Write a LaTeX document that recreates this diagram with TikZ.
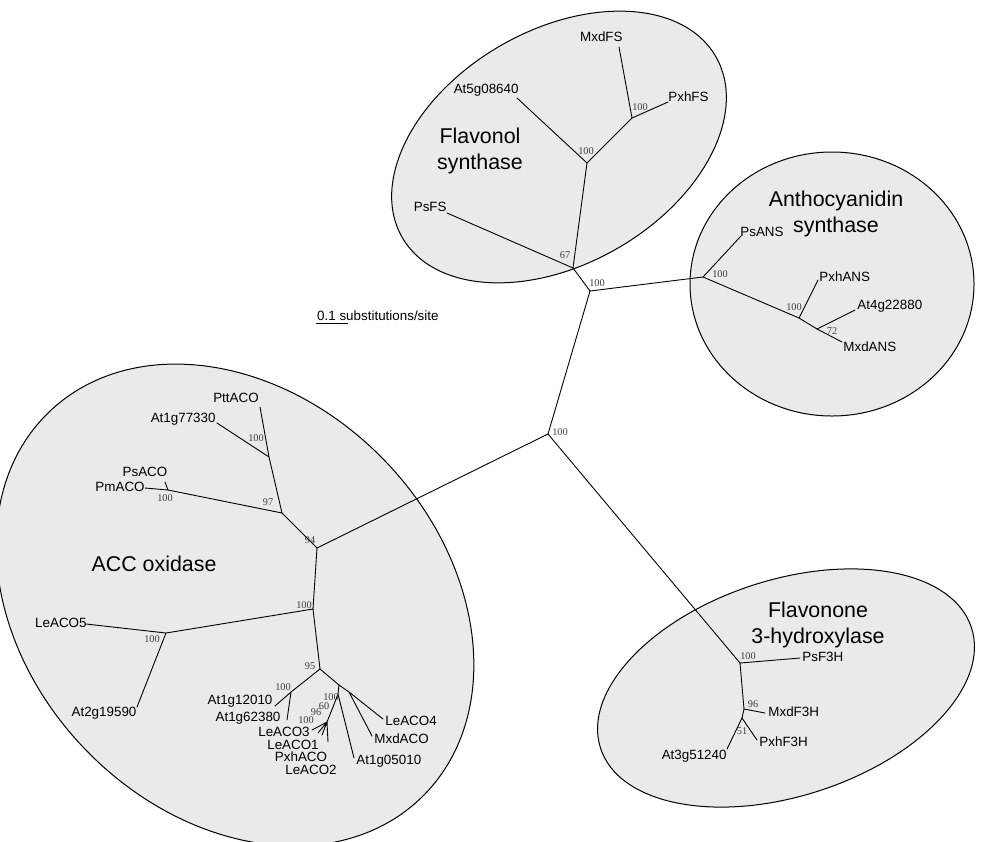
\documentclass[tikz,border=0pt]{standalone}
\usepackage{fontspec}
\setmainfont{Liberation Sans}
\newfontfamily\bootfont{Liberation Serif}
\usetikzlibrary{positioning}
\definecolor{cladefill}{RGB}{233,234,234}
\definecolor{boottext}{RGB}{60,60,60}

\begin{document}
\begin{tikzpicture}[x=1pt,y=-1pt,
  clade/.style={draw=black, line width=1pt, fill=cladefill},
  branch/.style={line width=0.9pt, line cap=round},
  taxon/.style={font=\fontsize{13.4}{15}\selectfont, inner sep=0.2pt},
  boot/.style={font=\bootfont\fontsize{10.3}{11}\selectfont, inner sep=0pt, text=boottext},
  group/.style={font=\fontsize{21.4}{25.5}\selectfont, align=center}]

\useasboundingbox (0,0) rectangle (981,841);
\clip (0,0) rectangle (981,841);

% clade ellipses
\draw[clade, rotate around={30:(559,147)}] (559,147) ellipse [x radius=181, y radius=117];
\draw[clade] (832,284) ellipse [x radius=142, y radius=132];
\draw[clade, rotate around={18:(786,688)}] (786,688) ellipse [x radius=195, y radius=108];
\draw[clade, rotate around={-46:(235,605)}] (235,605) ellipse [x radius=268, y radius=208];

% inner nodes
\coordinate (root) at (548,434);
\coordinate (top) at (590,291);
\coordinate (fs67) at (573,268);
\coordinate (fs100) at (587,163);
\coordinate (fs100b) at (632,118);
\coordinate (ans100) at (703,277);
\coordinate (ans100b) at (799,318);
\coordinate (ans72) at (817,329);
\coordinate (f3h100) at (740,663);
\coordinate (f3h96) at (744,709);
\coordinate (f3h51) at (742,718);
\coordinate (aco94) at (317,548);
\coordinate (aco97) at (282,513);
\coordinate (aco100a) at (269,457);
\coordinate (aco100b) at (168,490);
\coordinate (aco100c) at (313,609);
\coordinate (aco100d) at (166,633);
\coordinate (aco95) at (320,669);
\coordinate (aco100e) at (291,692);
\coordinate (aco100f) at (339,685);
\coordinate (acoMxd) at (349,692);
\coordinate (aco60) at (338,694);
\coordinate (aco96) at (333,707);
\coordinate (aco100g) at (327,722);

% leaf ends
\coordinate (eAt5) at (517,98);
\coordinate (eMxdFS) at (619,47);
\coordinate (ePxhFS) at (668,102);
\coordinate (ePsFS) at (447,213);
\coordinate (ePsANS) at (741,236);
\coordinate (ePxhANS) at (818,280);
\coordinate (eAt4) at (855,310);
\coordinate (eMxdANS) at (842,342);
\coordinate (ePsF3H) at (800,658);
\coordinate (eMxdF3H) at (765,713);
\coordinate (ePxhF3H) at (757,740);
\coordinate (eAt3) at (727,749);
\coordinate (ePtt) at (260,407);
\coordinate (eAt1g77) at (217,423);
\coordinate (ePs) at (165,482);
\coordinate (ePm) at (145,488);
\coordinate (eLe5) at (86,624);
\coordinate (eAt2) at (137,707);
\coordinate (eAt1g12) at (275,706);
\coordinate (eAt1g62) at (287,720);
\coordinate (eLe4) at (383,719);
\coordinate (eMxdACO) at (372,736);
\coordinate (eAt1g05) at (354,758);
\coordinate (eLe3) at (312,730);
\coordinate (eLe1) at (318,733);
\coordinate (ePxhACO) at (322,735);
\coordinate (eLe2) at (328,742);

% branches
\draw[branch] (root) -- (top) (root) -- (aco94) (root) -- (f3h100);
\draw[branch] (top) -- (fs67) -- (fs100) -- (fs100b) -- (eMxdFS);
\draw[branch] (fs67) -- (ePsFS) (fs100) -- (eAt5) (fs100b) -- (ePxhFS);
\draw[branch] (top) -- (ans100) -- (ans100b) -- (ans72) -- (eMxdANS);
\draw[branch] (ans100) -- (ePsANS) (ans100b) -- (ePxhANS) (ans72) -- (eAt4);
\draw[branch] (f3h100) -- (f3h96) -- (f3h51) -- (eAt3);
\draw[branch] (f3h100) -- (ePsF3H) (f3h96) -- (eMxdF3H) (f3h51) -- (ePxhF3H);
\draw[branch] (aco94) -- (aco97) -- (aco100a) -- (ePtt) (aco100a) -- (eAt1g77);
\draw[branch] (aco97) -- (aco100b) -- (ePs) (aco100b) -- (ePm);
\draw[branch] (aco94) -- (aco100c) -- (aco100d) -- (eLe5) (aco100d) -- (eAt2);
\draw[branch] (aco100c) -- (aco95) -- (aco100e) -- (eAt1g12) (aco100e) -- (eAt1g62);
\draw[branch] (aco95) -- (aco100f) -- (acoMxd) -- (eLe4) (acoMxd) -- (eMxdACO);
\draw[branch] (aco100f) -- (aco60) -- (aco96) -- (aco100g) (aco60) -- (eAt1g05);
\draw[branch] (aco100g) -- (eLe3) (aco100g) -- (eLe1) (aco100g) -- (ePxhACO) (aco100g) -- (eLe2);

% taxa
\node[taxon, anchor=mid east] (tAt5) at (519,91) {At5g08640};
\node[taxon, anchor=mid east] (tMxdFS) at (623,39) {MxdFS};
\node[taxon, anchor=south west] (tPxhFS) at (668,102) {PxhFS};
\node[taxon, anchor=mid east] (tPsFS) at (447,209) {PsFS};
\node[taxon, anchor=south west] (tPsANS) at (740,237) {PsANS};
\node[taxon, anchor=mid west] (tPxhANS) at (819,279) {PxhANS};
\node[taxon, anchor=mid west] (tAt4) at (857,307) {At4g22880};
\node[taxon, anchor=mid west] (tMxdANS) at (843,349) {MxdANS};
\node[taxon, anchor=mid west] (tPsF3H) at (802,659) {PsF3H};
\node[taxon, anchor=mid west] (tMxdF3H) at (768,714) {MxdF3H};
\node[taxon, anchor=mid west] (tPxhF3H) at (759,744) {PxhF3H};
\node[taxon, anchor=mid east] (tAt3) at (727,757) {At3g51240};
\node[taxon] (tPtt) at (236,398) {PttACO};
\node[taxon, anchor=mid east] (tAt1g77) at (216,420) {At1g77330};
\node[taxon] (tPs) at (145,472) {PsACO};
\node[taxon, anchor=mid east] (tPm) at (145,489) {PmACO};
\node[taxon, anchor=mid east] (tLe5) at (87,625) {LeACO5};
\node[taxon] (tAt2) at (104,713) {At2g19590};
\node[taxon] (tAt1g12) at (240,701) {At1g12010};
\node[taxon] (tAt1g62) at (248,718) {At1g62380};
\node[taxon, anchor=mid west] (tLe4) at (385,723) {LeACO4};
\node[taxon, anchor=mid west] (tMxdACO) at (374,741) {MxdACO};
\node[taxon, anchor=mid west] (tAt1g05) at (356,762) {At1g05010};
\node[taxon] (tLe3) at (284,732) {LeACO3};
\node[taxon] (tLe1) at (293,745) {LeACO1};
\node[taxon] (tPxhACO) at (301,757) {PxhACO};
\node[taxon] (tLe2) at (311,770) {LeACO2};

% bootstrap values
\node[boot] (bRoot) at (560,432) {100};
\node[boot] (bTop) at (597,283) {100};
\node[boot] (bFs67) at (565,255) {67};
\node[boot] (bFs100) at (586,151) {100};
\node[boot] (bFs100b) at (640,107) {100};
\node[boot] (bAns100) at (720,274) {100};
\node[boot] (bAns100b) at (794,307) {100};
\node[boot] (bAns72) at (832,331) {72};
\node[boot] (bF3h100) at (748,656) {100};
\node[boot] (bF3h96) at (753,704) {96};
\node[boot] (bF3h51) at (742,731) {51};
\node[boot] (bAco94) at (310,540) {94};
\node[boot] (bAco97) at (268,502) {97};
\node[boot] (bAco100a) at (256,438) {100};
\node[boot] (bAco100b) at (165,498) {100};
\node[boot] (bAco100c) at (304,605) {100};
\node[boot] (bAco100d) at (152,639) {100};
\node[boot] (bAco95) at (310,666) {95};
\node[boot] (bAco100e) at (283,687) {100};
\node[boot] (bAco100f) at (331,697) {100};
\node[boot] (bAco60) at (324,706) {60};
\node[boot] (bAco96) at (316,712) {96};
\node[boot] (bAco100g) at (306,720) {100};

% clade names
\node[group] (gFS) at (480,151) {Flavonol\\synthase};
\node[group] (gANS) at (836,214) {Anthocyanidin\\synthase};
\node[group] (gF3H) at (818,625) {Flavonone\\3-hydroxylase};
\node[group] (gACO) at (154,564) {ACC oxidase};

% scale bar
\coordinate (sbL) at (316,323);
\coordinate (sbR) at (348,323);
\draw[line width=0.9pt] (sbL) -- (sbR);
\node[taxon, anchor=base west, inner sep=0pt] (sbText) at (317,320) {0.1 substitutions/site};
\end{tikzpicture}
\end{document}
